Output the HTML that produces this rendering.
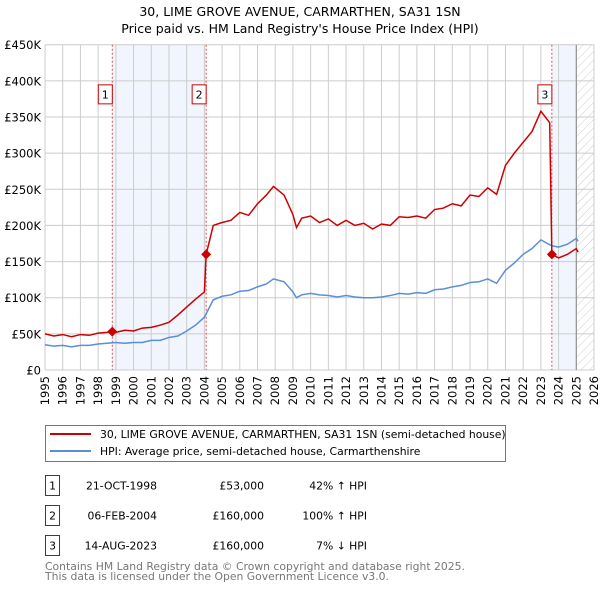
<!DOCTYPE html>
<html><head><meta charset="utf-8"><style>
html,body{margin:0;padding:0;background:#fff;width:600px;height:590px;overflow:hidden}
svg text{font-family:"DejaVu Sans","Liberation Sans",sans-serif;}
</style></head><body>
<svg id="chart" width="600" height="590" xmlns="http://www.w3.org/2000/svg">
<defs><pattern id="hatch" width="6" height="6" patternUnits="userSpaceOnUse" patternTransform="rotate(45)"><line x1="0" y1="0" x2="0" y2="6" stroke="#ccc" stroke-width="1"/></pattern></defs>
<text x="300" y="16" text-anchor="middle" font-size="12.5" fill="#000">30, LIME GROVE AVENUE, CARMARTHEN, SA31 1SN</text>
<text x="300" y="33" text-anchor="middle" font-size="12.5" fill="#000">Price paid vs. HM Land Registry's House Price Index (HPI)</text>
<g id="plot"></g>
<g>
<rect x="45.5" y="425.5" width="460" height="36" fill="#fff" stroke="#777"/>
<line x1="50" y1="434" x2="91" y2="434" stroke="#cc0000" stroke-width="2"/>
<text x="100" y="438" font-size="10.8">30, LIME GROVE AVENUE, CARMARTHEN, SA31 1SN (semi-detached house)</text>
<line x1="50" y1="451" x2="91" y2="451" stroke="#5b8ed6" stroke-width="2"/>
<text x="100" y="455" font-size="10.8">HPI: Average price, semi-detached house, Carmarthenshire</text>
</g>
<g font-size="10.8">
<rect x="45.5" y="475.5" width="14" height="20" fill="#fff" stroke="#cc0000"/><text x="52.5" y="489.5" text-anchor="middle">1</text>
<text x="157" y="489.5" text-anchor="end">21-OCT-1998</text><text x="264" y="489.5" text-anchor="end">£53,000</text><text x="367" y="489.5" text-anchor="end">42% ↑ HPI</text>
<rect x="45.5" y="505.5" width="14" height="20" fill="#fff" stroke="#cc0000"/><text x="52.5" y="519.5" text-anchor="middle">2</text>
<text x="157" y="519.5" text-anchor="end">06-FEB-2004</text><text x="264" y="519.5" text-anchor="end">£160,000</text><text x="367" y="519.5" text-anchor="end">100% ↑ HPI</text>
<rect x="45.5" y="535.5" width="14" height="20" fill="#fff" stroke="#cc0000"/><text x="52.5" y="549.5" text-anchor="middle">3</text>
<text x="157" y="549.5" text-anchor="end">14-AUG-2023</text><text x="264" y="549.5" text-anchor="end">£160,000</text><text x="367" y="549.5" text-anchor="end">7% ↓ HPI</text>
</g>
<text x="45" y="570" font-size="10.8" fill="#777">Contains HM Land Registry data © Crown copyright and database right 2025.</text>
<text x="45" y="580" font-size="10.8" fill="#777">This data is licensed under the Open Government Licence v3.0.</text>
</svg>
<script>
const hpiYears=[1995,1995.5,1996,1996.5,1997,1997.5,1998,1998.5,1999,1999.5,2000,2000.5,2001,2001.5,2002,2002.5,2003,2003.5,2004,2004.5,2005,2005.5,2006,2006.5,2007,2007.5,2007.9,2008.5,2009,2009.2,2009.5,2010,2010.5,2011,2011.5,2012,2012.5,2013,2013.5,2014,2014.5,2015,2015.5,2016,2016.5,2017,2017.5,2018,2018.5,2019,2019.5,2020,2020.5,2021,2021.5,2022,2022.5,2023,2023.6,2024,2024.5,2025,2025.1];
const hpiValues=[35,33,34,32,34,34,36,37,38,37,38,38,41,41,45,47,54,62,73,97,102,104,109,110,115,119,126,122,108,100,104,106,104,103,101,103,101,100,100,101,103,106,105,107,106,111,112,115,117,121,122,126,120,138,148,160,168,180,172,170,174,182,178];
const priceYears=[1995,1995.5,1996,1996.5,1997,1997.5,1998,1998.5,1998.8,1999,1999.5,2000,2000.5,2001,2001.5,2002,2002.5,2003,2003.5,2004.0,2004.1,2004.5,2005,2005.5,2006,2006.5,2007,2007.5,2007.9,2008.5,2009,2009.2,2009.5,2010,2010.5,2011,2011.5,2012,2012.5,2013,2013.5,2014,2014.5,2015,2015.5,2016,2016.5,2017,2017.5,2018,2018.5,2019,2019.5,2020,2020.5,2021,2021.5,2022,2022.5,2023,2023.5,2023.62,2024,2024.5,2025,2025.1];
const priceValues=[50,47,49,46,49,48,51,52,53,52,55,54,58,59,62,66,76,87,98,108,160,200,204,207,218,214,230,242,254,242,215,197,210,213,204,209,200,207,200,203,195,202,200,212,211,213,210,222,224,230,227,242,240,252,243,283,300,315,330,358,342,160,155,160,168,163];
const sales=[{t:1998.8,v:53,label:"1"},{t:2004.1,v:160,label:"2"},{t:2023.62,v:160,label:"3"}];
const yTicks=[0,50,100,150,200,250,300,350,400,450];
const yTickLabels=["£0","£50K","£100K","£150K","£200K","£250K","£300K","£350K","£400K","£450K"];
const xTicks=[1995,1996,1997,1998,1999,2000,2001,2002,2003,2004,2005,2006,2007,2008,2009,2010,2011,2012,2013,2014,2015,2016,2017,2018,2019,2020,2021,2022,2023,2024,2025,2026];

const X0=45,X1=594,Y0=370,Y1=44.7;
const xs=t=>X0+(t-1995)/(2026-1995)*(X1-X0);
const ys=v=>Y0-v/450*(Y0-Y1);
const NS="http://www.w3.org/2000/svg";
const g=document.getElementById('plot');
function mk(tag,attrs,parent){const e=document.createElementNS(NS,tag);for(const k in attrs)e.setAttribute(k,attrs[k]);(parent||g).appendChild(e);return e;}
let r=mk('rect',{x:xs(sales[0].t),y:Y1,width:xs(sales[1].t)-xs(sales[0].t),height:Y0-Y1,fill:'#eef3fc',opacity:0.8});


r=mk('rect',{x:xs(sales[2].t),y:Y1,width:xs(2025)-xs(sales[2].t),height:Y0-Y1,fill:'#eef3fc',opacity:0.8});


r=mk('rect',{x:xs(2025),y:Y1,width:X1-xs(2025),height:Y0-Y1,fill:'url(#hatch)'});


xTicks.forEach(t=>{const l=mk('line',{x1:xs(t),x2:xs(t),y1:Y1,y2:Y0,stroke:'#ccc','stroke-width':1});


const tx=mk('text',{x:0,y:0,'font-size':11.5,'text-anchor':'end',transform:`translate(${xs(t)+4},${Y0+6}) rotate(-90)`});tx.textContent=t;

});
yTicks.forEach((v,i)=>{const l=mk('line',{x1:X0,x2:X1,y1:ys(v),y2:ys(v),stroke:'#ccc','stroke-width':1});


const tx=mk('text',{x:41,y:ys(v)+4.5,'font-size':11.5,'text-anchor':'end'});tx.textContent=yTickLabels[i];

});
const bl=mk('line',{x1:xs(2025),x2:xs(2025),y1:Y1,y2:Y0,stroke:'#888','stroke-width':1});


sales.forEach(s=>{const l=mk('line',{x1:xs(s.t),x2:xs(s.t),y1:Y1,y2:Y0,stroke:'#e05050','stroke-width':1,'stroke-dasharray':'2,2'});

});
const hp=mk('polyline',{points:hpiYears.map((t,i)=>xs(t)+','+ys(hpiValues[i])).join(' '),fill:'none',stroke:'#5b8ed6','stroke-width':1.5});


const pp=mk('polyline',{points:priceYears.map((t,i)=>xs(t)+','+ys(priceValues[i])).join(' '),fill:'none',stroke:'#cc0000','stroke-width':1.5});


sales.forEach(s=>{const cx=xs(s.t),cy=ys(s.v);
const d=mk('polygon',{points:`${cx},${cy-5} ${cx+5},${cy} ${cx},${cy+5} ${cx-5},${cy}`,fill:'#cc0000'});


const b=mk('rect',{x:cx-14,y:ys(382)-9,width:14,height:19,fill:'#fff',stroke:'#cc0000'});


const tx=mk('text',{x:cx-7,y:ys(382)+4.5,'font-size':11,'text-anchor':'middle'});tx.textContent=s.label;

});
</script>
</body></html>
